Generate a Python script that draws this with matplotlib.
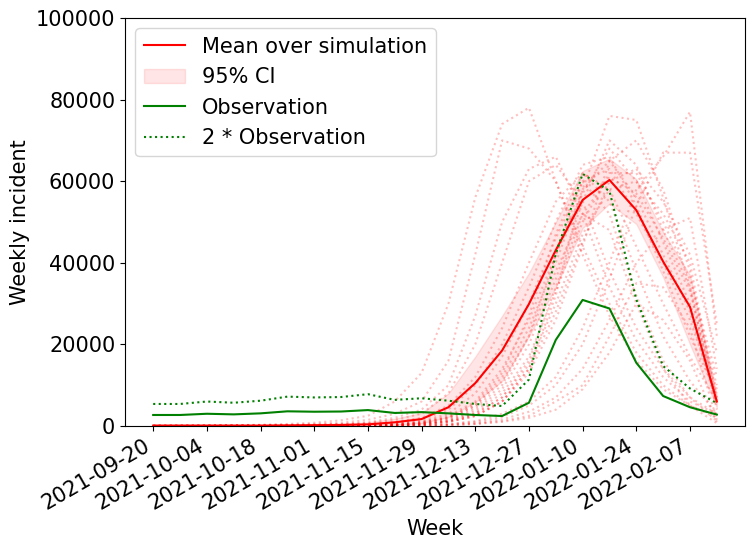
import numpy as np
import pandas as pd
import matplotlib
matplotlib.use("Agg")
import matplotlib.pyplot as plt

# weekly dates (Mondays)
weeks = pd.date_range("2021-09-20", "2022-02-14", freq="7D")

# observed weekly incidence
observation = [2700, 2700, 3000, 2850, 3100, 3600, 3500, 3550, 3900, 3200, 3400,
               3100, 2700, 2450, 5700, 21100, 30900, 28800, 15500, 7350, 4600, 2800]

# mean over simulations and 95% CI (thousands)
sim_mean = [0.1, 0.1, 0.1, 0.1, 0.1, 0.15, 0.2, 0.25, 0.4, 0.9, 1.7,
            4.6, 10.5, 18.5, 29.9, 43.1, 55.4, 60.3, 52.9, 40.3, 29.2, 6.0]
ci_low = [0, 0, 0, 0, 0, 0, 0, 0, 0.1, 0.3, 0.7,
          2.2, 5.8, 11, 22, 34, 48.5, 54.5, 49.5, 36.5, 20, 4.5]
ci_high = [0.3, 0.3, 0.3, 0.3, 0.3, 0.4, 0.5, 0.6, 0.9, 1.8, 3.2,
           8, 17, 27, 37.5, 50, 62.5, 65.5, 60.5, 47.5, 37, 7.5]

# individual simulation runs (thousands)
sims = [
    [0.1, 0.1, 0.1, 0.2, 0.3, 0.5, 0.8, 1.4, 2.5, 6, 13, 30, 56, 74, 78, 60, 42, 27, 16, 9, 5, 2],
    [0.1, 0.1, 0.1, 0.1, 0.2, 0.3, 0.5, 0.8, 1.5, 3, 6, 16, 42, 70, 68, 60, 44, 30, 18, 10, 5, 2.5],
    [0, 0.1, 0.1, 0.1, 0.1, 0.2, 0.3, 0.5, 0.9, 2, 4, 10, 27, 50, 63, 66, 52, 34, 21, 12, 6, 3],
    [0, 0, 0.1, 0.1, 0.1, 0.1, 0.2, 0.4, 0.7, 1.5, 3, 8, 20, 40, 60, 64, 55, 38, 24, 14, 7, 3],
    [0, 0, 0, 0.1, 0.1, 0.1, 0.2, 0.3, 0.5, 1, 2, 5, 12, 24, 40, 55, 62, 58, 44, 30, 17, 6],
    [0, 0, 0, 0, 0.1, 0.1, 0.1, 0.2, 0.4, 0.8, 1.6, 4, 10, 20, 34, 50, 64, 66, 54, 38, 22, 8],
    [0, 0, 0, 0, 0, 0.1, 0.1, 0.2, 0.3, 0.6, 1.2, 3, 8, 17, 30, 46, 60, 63, 52, 40, 26, 7],
    [0, 0, 0, 0, 0, 0, 0.1, 0.1, 0.2, 0.5, 1, 2.5, 6, 14, 26, 42, 57, 68, 60, 45, 30, 9],
    [0, 0, 0, 0, 0, 0, 0.1, 0.1, 0.2, 0.4, 0.9, 2, 5, 12, 24, 40, 58, 65, 56, 42, 28, 5],
    [0, 0, 0, 0, 0, 0, 0, 0.1, 0.2, 0.4, 0.8, 2, 5, 11, 22, 38, 52, 61, 57, 46, 33, 7],
    [0, 0, 0, 0, 0, 0, 0, 0.1, 0.1, 0.3, 0.6, 1.5, 4, 9, 20, 36, 55, 70, 64, 48, 34, 10],
    [0, 0, 0, 0, 0, 0, 0, 0.1, 0.1, 0.3, 0.6, 1.4, 3.5, 8, 17, 33, 50, 62, 62, 50, 36, 12],
    [0, 0, 0, 0, 0, 0, 0, 0, 0.1, 0.2, 0.5, 1.2, 3, 7, 15, 30, 47, 58, 60, 52, 40, 6],
    [0, 0, 0, 0, 0, 0, 0, 0, 0.1, 0.2, 0.4, 1, 2.5, 6, 14, 28, 45, 60, 63, 55, 42, 18],
    [0, 0, 0, 0, 0, 0, 0, 0, 0.1, 0.2, 0.4, 1, 2.4, 6, 13, 26, 44, 65, 70, 58, 38, 5],
    [0, 0, 0, 0, 0, 0, 0, 0, 0.1, 0.2, 0.4, 1, 2.5, 6, 14, 32, 58, 76, 75, 56, 34, 4],
    [0, 0, 0, 0, 0, 0, 0, 0, 0, 0.1, 0.2, 0.5, 1.2, 3, 6, 12, 24, 40, 58, 66, 77, 22],
    [0, 0, 0, 0, 0, 0, 0, 0, 0, 0.1, 0.2, 0.4, 1, 2.2, 5, 10, 20, 36, 54, 67, 67, 25],
    [0, 0, 0, 0, 0, 0, 0, 0, 0, 0, 0.1, 0.3, 0.7, 1.6, 3.5, 7, 14, 26, 40, 48, 51, 14],
    [0, 0, 0, 0, 0, 0, 0, 0, 0, 0, 0.1, 0.2, 0.5, 1.2, 2.5, 6, 10, 22, 35, 34, 24, 1.5],
    [0, 0, 0, 0, 0, 0, 0, 0, 0, 0, 0.1, 0.2, 0.5, 1, 2, 4, 9, 18, 30, 26, 16, 1],
    [0, 0, 0, 0, 0, 0, 0, 0, 0.1, 0.2, 0.5, 1.2, 3, 7, 16, 34, 52, 48, 30, 14, 5, 0.7],
    [0, 0, 0, 0, 0, 0, 0, 0, 0.1, 0.3, 0.7, 1.8, 4.5, 10, 22, 42, 60, 52, 32, 16, 7, 1.2],
    [0, 0, 0, 0, 0, 0, 0, 0.1, 0.2, 0.4, 0.9, 2.2, 5.5, 13, 27, 47, 62, 55, 38, 22, 11, 3],
]

plt.rcParams["font.size"] = 15

fig = plt.figure(figsize=(7.54, 5.49), dpi=100)
ax = fig.add_axes([125 / 754, 1 - 426 / 549, 620 / 754, 408 / 549])

for run in sims:
    ax.plot(weeks, np.array(run) * 1000, color="red", linestyle=":", alpha=0.25, linewidth=1.5)

ax.plot(weeks, np.array(sim_mean) * 1000, color="red", label="Mean over simulation")
ax.fill_between(weeks, np.array(ci_low) * 1000, np.array(ci_high) * 1000,
                color="red", alpha=0.1, label="95% CI")
obs = np.array(observation)
ax.plot(weeks, obs, color="green", label="Observation")
ax.plot(weeks, 2 * obs, color="green", linestyle=":", label="2 * Observation")

ax.set_ylim(0, 100000)
ax.set_xticks(weeks[::2])
ax.set_xticklabels([d.strftime("%Y-%m-%d") for d in weeks[::2]], rotation=30, ha="right")
ax.set_xlabel("Week")
ax.set_ylabel("Weekly incident")
ax.legend(loc="upper left")

fig.savefig("out.png", dpi=100)
